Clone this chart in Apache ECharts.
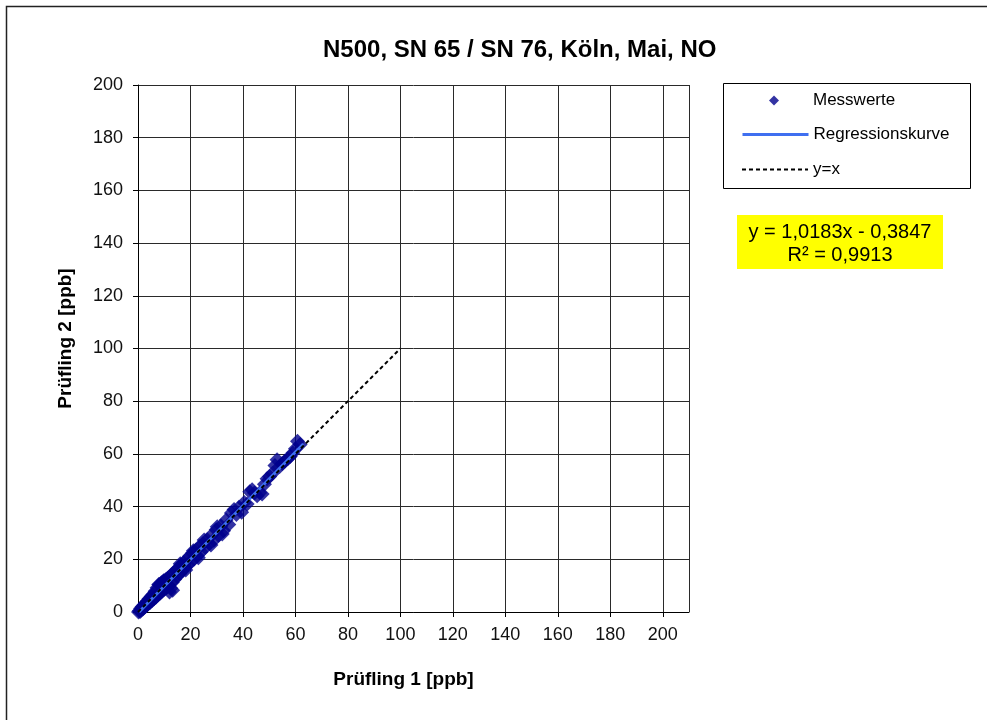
<!DOCTYPE html>
<html>
<head>
<meta charset="utf-8">
<script src="https://cdn.jsdelivr.net/npm/echarts@6/dist/echarts.min.js"></script>
<style>
html,body{margin:0;padding:0;background:#fff;}
#chart{width:987px;height:720px;}
</style>
</head>
<body>
<div id="chart"></div>
<script>
// ---- data ----
var titleText = 'N500, SN 65 / SN 76, Köln, Mai, NO';
var xAxisName = 'Prüfling 1 [ppb]';
var yAxisName = 'Prüfling 2 [ppb]';
var seriesNames = ['Messwerte', 'Regressionskurve', 'y=x'];
var equationLines = ['y = 1,0183x - 0,3847', 'R² = 0,9913'];

var messX = [0.2,0.5,0.8,1.0,1.3,1.6,1.9,2.2,2.5,2.8,3.1,3.5,3.8,4.2,4.6,5.0,5.3,5.7,6.1,6.5,
  6.9,7.3,7.7,8.1,8.5,8.9,9.3,9.7,10.1,10.5,10.9,11.3,11.8,12.5,12.6,13.1,13.5,14.0,14.4,14.9,
  15.4,15.9,16.4,16.9,17.4,17.9,18.5,19.0,19.6,20.2,20.8,21.4,22.0,22.7,23.4,24.1,24.8,25.6,26.4,27.2,
  28.0,28.9,29.8,30.7,31.6,32.6,33.6,34.6,35.6,36.6,37.5,38.5,39.5,40.5,41.6,42.6,43.5,44.4,45.4,46.4,
  47.3,48.2,49.2,50.2,51.2,52.2,53.0,54.0,55.0,56.0,57.0,58.0,59.0,60.0,60.8,61.8,
  7.9,9.8,12.0,13.2,16.1,18.2,21.1,23.0,25.2,27.8,30.2,32.1];
var messY = [0.0,0.5,0.2,1.3,0.8,2.0,1.2,2.6,1.8,3.3,2.4,4.1,3.0,5.0,3.6,5.9,4.3,6.6,5.0,7.9,
  5.7,9.2,6.5,10.3,7.2,11.1,8.0,11.6,8.6,12.2,9.3,12.8,10.1,9.0,14.0,11.3,14.9,12.4,15.7,13.6,
  16.8,14.5,17.9,15.6,18.6,16.8,19.9,17.8,21.2,19.0,22.4,20.1,23.4,21.3,24.9,22.9,26.0,24.5,27.4,25.9,
  29.1,27.2,31.2,29.1,32.6,30.8,34.9,33.2,37.6,38.9,37.0,39.8,37.9,41.6,41.0,45.6,46.4,45.2,44.1,45.3,
  44.8,48.5,50.6,51.4,52.6,55.6,57.8,55.2,56.4,57.3,58.1,59.0,60.3,62.0,64.8,63.6,
  10.4,11.9,7.6,8.3,18.3,15.9,23.2,20.6,27.3,25.4,32.4,29.6];

var regX = [0.4, 63.0];
var regY = [0.02, 63.77];
var idX = [0, 100];
var idY = [0, 100];

var xTicks = {min: 0, max: 210, interval: 20};
var yTicks = {min: 0, max: 200, interval: 20};

function pairs(a, b) { return a.map(function (v, i) { return [v, b[i]]; }); }

var chart = echarts.init(document.getElementById('chart'));
var FONT = 'Liberation Sans, Arial, sans-serif';
var legendText = {fontFamily: FONT, fontSize: 17, color: '#000'};

chart.setOption({
  animation: false,
  backgroundColor: '#ffffff',
  textStyle: {fontFamily: FONT},
  title: {
    text: titleText,
    left: 318,
    top: 33,
    textStyle: {fontFamily: FONT, fontSize: 24, fontWeight: 'bold', color: '#000'}
  },
  grid: {left: 138, top: 85, width: 551, height: 527, containLabel: false, show: false},
  legend: [
    {
      orient: 'vertical', left: 769, top: 92, padding: 0,
      itemWidth: 10, itemHeight: 10, selectedMode: false,
      symbolKeepAspect: true,
      textStyle: Object.assign({padding: [0, 0, 0, 29]}, legendText),
      data: [{name: seriesNames[0], icon: 'diamond'}]
    },
    {
      orient: 'vertical', left: 741, top: 126, padding: 0,
      itemWidth: 66, itemHeight: 10, selectedMode: false,
      lineStyle: {width: 3, color: '#3F6FF0'},
      textStyle: legendText,
      data: [{name: seriesNames[1], itemStyle: {opacity: 0}}]
    },
    {
      orient: 'vertical', left: 741, top: 161, padding: 0,
      itemWidth: 66, itemHeight: 10, selectedMode: false,
      lineStyle: {width: 2, color: '#000', type: [4, 3]},
      textStyle: legendText,
      data: [{name: seriesNames[2], itemStyle: {opacity: 0}}]
    }
  ],
  xAxis: {
    type: 'value',
    min: xTicks.min, max: xTicks.max, interval: xTicks.interval,
    name: xAxisName,
    nameLocation: 'middle',
    nameGap: 58,
    nameTextStyle: {fontFamily: FONT, fontSize: 19, fontWeight: 'bold', color: '#000', padding: [0, 20, 0, 0]},
    axisLine: {show: true, lineStyle: {color: '#000', width: 1}},
    axisTick: {show: true, inside: false, length: 5, lineStyle: {color: '#000'}},
    axisLabel: {fontFamily: FONT, fontSize: 18, color: '#111', margin: 14, showMaxLabel: false},
    splitLine: {show: true, lineStyle: {color: '#2a2a2a', width: 1}}
  },
  yAxis: {
    type: 'value',
    min: yTicks.min, max: yTicks.max, interval: yTicks.interval,
    name: yAxisName,
    nameLocation: 'middle',
    nameGap: 63,
    nameTextStyle: {fontFamily: FONT, fontSize: 19, fontWeight: 'bold', color: '#000', padding: [0, 0, 0, 20]},
    axisLine: {show: true, lineStyle: {color: '#000', width: 1}},
    axisTick: {show: true, inside: false, length: 5, lineStyle: {color: '#000'}},
    axisLabel: {fontFamily: FONT, fontSize: 18, color: '#111', margin: 15},
    splitLine: {show: true, lineStyle: {color: '#2a2a2a', width: 1}}
  },
  series: [
    {
      name: seriesNames[0],
      type: 'scatter',
      symbol: 'diamond',
      symbolSize: 15,
      itemStyle: {color: '#00008C'},
      data: pairs(messX, messY),
      z: 2
    },
    {
      name: seriesNames[1],
      type: 'line',
      symbol: 'none',
      lineStyle: {color: '#3F6FF0', width: 3},
      itemStyle: {color: '#3F6FF0'},
      data: pairs(regX, regY),
      z: 3
    },
    {
      name: seriesNames[2],
      type: 'line',
      symbol: 'none',
      lineStyle: {color: '#000', width: 2, type: [4, 3]},
      itemStyle: {color: '#000'},
      data: pairs(idX, idY),
      z: 4
    }
  ],
  graphic: [
    {type: 'polyline', shape: {points: [[6.5, 720], [6.5, 6.5], [987, 6.5]]}, style: {stroke: '#222', lineWidth: 1.5, fill: null}, silent: true},
    {type: 'rect', shape: {x: 723.5, y: 83.5, width: 247, height: 105}, style: {stroke: '#000', lineWidth: 1, fill: null}, silent: true},
    {type: 'rect', shape: {x: 737, y: 215, width: 206, height: 54}, style: {fill: '#FFFF00', stroke: null}, silent: true},
    {type: 'text', x: 840, y: 232, style: {text: equationLines[0], font: '20px ' + FONT, fill: '#000', align: 'center', verticalAlign: 'middle'}, silent: true},
    {type: 'text', x: 840, y: 255, style: {text: equationLines[1], font: '20px ' + FONT, fill: '#000', align: 'center', verticalAlign: 'middle'}, silent: true}
  ]
});
</script>
</body>
</html>
